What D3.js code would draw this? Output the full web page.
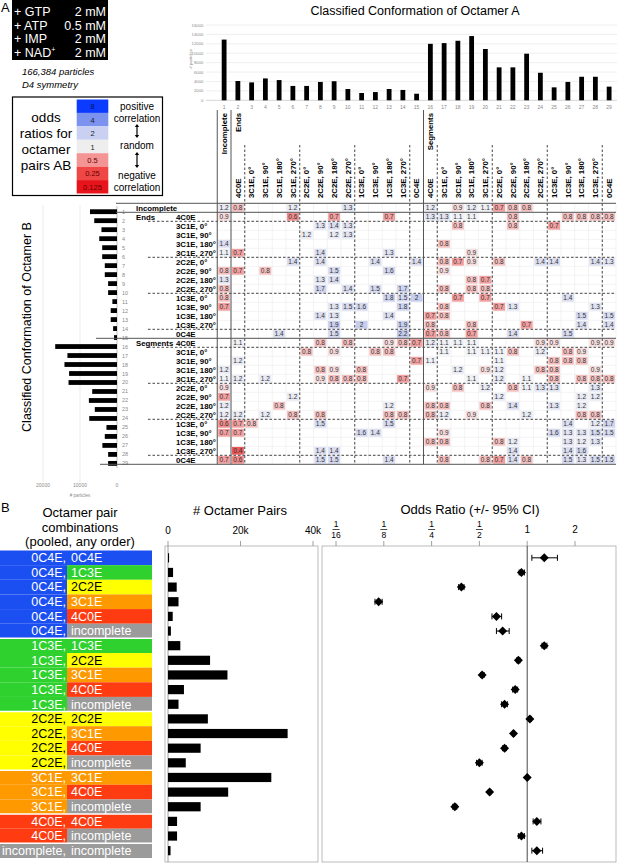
<!DOCTYPE html>
<html>
<head>
<meta charset="utf-8">
<script src="https://cdn.jsdelivr.net/npm/d3@7"></script>
<style>
  body { margin: 0; background: #fff; }
  svg { display: block; font-family: "Liberation Sans", Arial, sans-serif; }
</style>
</head>
<body>
<svg id="fig" width="617" height="865"></svg>
<script>
// ---------------- data ----------------
const conditions = ['GTP', 'ATP', 'IMP', 'NAD'];
const concentrations = ['2 mM', '0.5 mM', '2 mM', '2 mM'];

const legendValues = ['8', '4', '2', '1', '0.5', '0.25', '0.125'];
const legendColors = ['#0b3bff', '#7b92ee', '#c9d0f1', '#eeeeee', '#f39595', '#ef4646', '#e8141c'];

// particles per conformation, octamer A (top) and octamer B (left)
const octACounts = [12900, 4100, 3800, 4650, 4300, 3050, 3050, 3900, 4050, 2400, 1550, 1750, 2400, 2200, 1400,
  12000, 12150, 12650, 13650, 10900, 7000, 7000, 9900, 5850, 2750, 3900, 5000, 5000, 2900];
const octBCounts = [7300, 6150, 4200, 4800, 4000, 4000, 3300, 3300, 2400, 2400, 1250, 1700, 1700, 1050, 800,
  16700, 13400, 14200, 12950, 13100, 6700, 7600, 6000, 7500, 2850, 3300, 3950, 2400, 2400];

const subLabels = ['4C0E', '3C1E, 0°', '3C1E, 90°', '3C1E, 180°', '3C1E, 270°',
  '2C2E, 0°', '2C2E, 90°', '2C2E, 180°', '2C2E, 270°',
  '1C3E, 0°', '1C3E, 90°', '1C3E, 180°', '1C3E, 270°', '0C4E'];
const confLabels = ['Incomplete', ...subLabels, ...subLabels];
const groupLabels = [[1, 'Incomplete'], [2, 'Ends'], [16, 'Segments']];

// odds ratio cells, one list per row of octamer B: [column of octamer A, odds ratio]
const oddsByRow = [
  [[1, 1.2], [2, 0.8], [6, 1.2], [10, 1.3], [16, 1.2], [18, 0.9], [19, 1.2], [20, 1.1], [21, 0.7], [22, 0.8], [23, 0.8]],
  [[1, 0.9], [6, 0.6], [9, 0.7], [13, 0.7], [16, 1.3], [17, 1.3], [18, 1.1], [19, 1.1], [22, 0.8], [26, 0.8], [27, 0.8], [28, 0.8], [29, 0.8]],
  [[8, 1.3], [9, 1.4], [10, 1.3], [18, 0.8], [22, 0.8], [25, 0.7]],
  [[7, 1.2], [9, 1.2], [10, 1.3]],
  [[1, 1.4], [17, 0.8]],
  [[1, 1.1], [2, 0.7], [8, 1.4], [13, 1.3], [19, 0.9]],
  [[6, 1.4], [8, 1.4], [12, 1.4], [15, 1.4], [17, 0.8], [18, 0.7], [19, 0.9], [21, 0.8], [24, 1.4], [25, 1.4], [28, 1.4], [29, 1.3]],
  [[1, 0.8], [2, 0.7], [4, 0.8], [9, 1.5], [13, 1.6], [17, 0.9]],
  [[1, 1.3], [8, 1.3], [9, 1.4], [19, 0.8], [20, 0.7]],
  [[1, 0.8], [8, 1.7], [10, 1.4], [12, 1.5], [14, 1.7], [17, 0.8], [19, 0.8], [20, 0.8]],
  [[1, 0.8], [13, 1.8], [14, 1.5], [15, 2], [18, 0.7], [20, 0.7], [26, 1.4]],
  [[1, 0.7], [9, 1.3], [10, 1.5], [11, 1.6], [14, 1.8], [17, 0.8], [21, 0.7], [22, 1.3], [28, 1.3]],
  [[8, 1.4], [9, 1.3], [13, 1.4], [16, 0.7], [17, 0.8], [27, 1.5], [29, 1.5]],
  [[9, 1.9], [11, 2], [14, 1.9], [16, 0.8], [19, 0.8], [23, 0.7], [27, 1.4], [29, 1.4]],
  [[5, 1.4], [9, 1.5], [14, 2.2], [16, 0.7], [17, 0.8], [19, 0.7], [22, 1.4], [26, 1.5]],
  [[2, 1.1], [8, 0.8], [10, 0.8], [13, 0.9], [14, 0.8], [15, 0.7], [16, 1.2], [17, 1.1], [18, 1.1], [19, 1.1], [24, 0.9], [25, 0.9], [28, 0.9], [29, 0.9]],
  [[7, 0.8], [9, 0.9], [12, 0.8], [13, 0.8], [17, 1.1], [19, 1.1], [20, 1.1], [21, 1.1], [22, 0.8], [24, 1.2], [26, 0.8], [27, 0.9]],
  [[2, 1.2], [15, 0.7], [16, 1.1], [21, 1.1], [25, 0.8], [26, 0.8], [27, 0.8]],
  [[1, 1.2], [8, 0.8], [9, 0.9], [11, 0.8], [18, 1.2], [20, 0.9], [21, 1.2], [24, 0.8], [25, 0.8], [28, 0.9]],
  [[1, 1.1], [2, 1.2], [4, 1.2], [8, 0.9], [9, 0.8], [10, 0.8], [11, 0.8], [14, 0.7], [19, 1.1], [21, 1.2], [23, 1.1], [25, 0.8], [27, 0.8], [28, 0.8], [29, 0.8]],
  [[1, 0.9], [16, 0.9], [18, 0.8], [20, 1.2], [22, 0.8], [23, 1.1], [24, 1.3], [25, 1.3], [28, 1.3]],
  [[1, 0.7], [6, 1.2], [21, 1.2], [27, 1.2], [28, 1.2]],
  [[1, 1.2], [5, 0.8], [13, 1.2], [16, 0.8], [17, 0.8], [20, 0.8], [22, 1.4], [25, 1.3], [27, 1.2]],
  [[1, 1.2], [2, 1.2], [4, 1.2], [6, 0.8], [8, 0.8], [13, 0.8], [14, 0.8], [16, 0.8], [17, 1.2], [19, 0.9], [23, 1.2], [27, 0.8], [28, 0.8]],
  [[1, 0.6], [2, 0.7], [3, 0.8], [8, 1.5], [13, 1.5], [26, 1.4], [28, 1.2], [29, 1.7]],
  [[1, 0.7], [2, 0.7], [11, 1.6], [12, 1.4], [17, 0.9], [25, 1.6], [26, 1.3], [27, 1.3], [28, 1.5], [29, 1.5]],
  [[16, 0.8], [17, 0.8], [21, 0.8], [22, 1.2], [26, 1.3], [27, 1.2], [28, 1.3]],
  [[2, 0.4], [8, 1.4], [9, 1.4], [22, 1.4], [26, 1.4], [27, 1.6]],
  [[1, 0.7], [2, 0.6], [8, 1.5], [9, 1.5], [13, 1.4], [17, 0.8], [20, 0.8], [21, 0.7], [22, 1.4], [23, 0.8], [26, 1.5], [27, 1.3], [28, 1.5], [29, 1.5]]
];

// panel B
const pairFirst = ['0C4E', '0C4E', '0C4E', '0C4E', '0C4E', '0C4E', '1C3E', '1C3E', '1C3E', '1C3E', '1C3E',
  '2C2E', '2C2E', '2C2E', '2C2E', '3C1E', '3C1E', '3C1E', '4C0E', '4C0E', 'incomplete'];
const pairSecond = ['0C4E', '1C3E', '2C2E', '3C1E', '4C0E', 'incomplete', '1C3E', '2C2E', '3C1E', '4C0E', 'incomplete',
  '2C2E', '3C1E', '4C0E', 'incomplete', '3C1E', '4C0E', 'incomplete', '4C0E', 'incomplete', 'incomplete'];
const pairCounts = [300, 1400, 2400, 2900, 1300, 800, 3400, 11600, 16400, 4400, 2900,
  11000, 33000, 9000, 4900, 28500, 16600, 9000, 2500, 2500, 700];
const pairOdds = [1.28, 0.92, 0.385, 0.116, 0.64, 0.70, 1.28, 0.88, 0.52, 0.84, 0.72,
  1.04, 0.82, 0.72, 0.50, 1.0, 0.58, 0.35, 1.15, 0.92, 1.15];
const pairLow = [1.07, 0.89, 0.37, 0.11, 0.60, 0.64, 1.24, 0.86, 0.51, 0.81, 0.69,
  1.02, 0.81, 0.70, 0.48, 0.99, 0.57, 0.34, 1.09, 0.88, 1.07];
const pairHigh = [1.55, 0.96, 0.40, 0.122, 0.69, 0.77, 1.33, 0.90, 0.535, 0.87, 0.75,
  1.06, 0.83, 0.74, 0.52, 1.01, 0.59, 0.36, 1.22, 0.96, 1.25];
const pairCountTicks = [0, 20000, 40000];
const oddsTicks = [1 / 16, 1 / 8, 1 / 4, 1 / 2, 1, 2];
const oddsTickLabels = [['1', '16'], ['1', '8'], ['1', '4'], ['1', '2'], ['1'], ['2']];

const confColors = {
  '0C4E': '#1c4ff2', '1C3E': '#2ed12e', '2C2E': '#ffff00',
  '3C1E': '#ff9900', '4C0E': '#ff3b12', 'incomplete': '#9b9b9b'
};

// ---------------- setup ----------------
const svg = d3.select('#fig');
const GRAY = '#8a8a8a';

svg.append('text').attr('x', 1).attr('y', 12).attr('font-size', 13).text('A');
svg.append('text').attr('x', 1).attr('y', 512).attr('font-size', 13).text('B');

// conditions box
svg.append('rect').attr('x', 12).attr('y', 0).attr('width', 96).attr('height', 60).attr('fill', '#000');
conditions.forEach((c, i) => {
  const y = 16 + i * 13.6;
  const t = svg.append('text').attr('x', 14).attr('y', y).attr('fill', '#fff').attr('font-size', 12.5).text('+ ' + c);
  if (c === 'NAD') t.append('tspan').attr('font-size', 7).attr('dy', -5).text('+');
  svg.append('text').attr('x', 106).attr('y', y).attr('fill', '#fff').attr('font-size', 12.5)
    .attr('text-anchor', 'end').text(concentrations[i]);
});
svg.append('text').attr('x', 22).attr('y', 75).attr('font-size', 9.5).attr('font-style', 'italic').text('166,384 particles');
svg.append('text').attr('x', 22).attr('y', 88).attr('font-size', 9.5).attr('font-style', 'italic').text('D4 symmetry');

// odds ratio legend
svg.append('rect').attr('x', 12.5).attr('y', 97).attr('width', 150).attr('height', 98.5)
  .attr('fill', 'none').attr('stroke', '#000').attr('stroke-width', 1.2);
const swatchY = d3.scaleBand().domain(legendValues).range([99.5, 193.5]);
legendValues.forEach((v, i) => {
  svg.append('rect').attr('x', 76.7).attr('y', swatchY(v)).attr('width', 31.6).attr('height', swatchY.bandwidth())
    .attr('fill', legendColors[i]);
  svg.append('text').attr('x', 92.5).attr('y', swatchY(v) + swatchY.bandwidth() / 2 + 3)
    .attr('text-anchor', 'middle').attr('font-size', 7.5)
    .attr('fill', i < 1 ? '#001060' : i > 3 ? '#6a0000' : '#222').text(v);
});
['odds', 'ratios for', 'octamer', 'pairs AB'].forEach((t, i) => {
  svg.append('text').attr('x', 46).attr('y', 122 + i * 16).attr('text-anchor', 'middle').attr('font-size', 13.5).text(t);
});
[['positive', 109.5], ['correlation', 121.5], ['random', 148.5], ['negative', 179], ['correlation', 190.5]].forEach(([t, y]) => {
  svg.append('text').attr('x', 137).attr('y', y).attr('text-anchor', 'middle').attr('font-size', 10).text(t);
});
function dblArrow(x, y1, y2) {
  svg.append('line').attr('x1', x).attr('x2', x).attr('y1', y1 + 2).attr('y2', y2 - 2).attr('stroke', '#000').attr('stroke-width', 1.2);
  svg.append('path').attr('d', `M${x - 2.2},${y1 + 3}L${x},${y1}L${x + 2.2},${y1 + 3}Z`).attr('fill', '#000');
  svg.append('path').attr('d', `M${x - 2.2},${y2 - 3}L${x},${y2}L${x + 2.2},${y2 - 3}Z`).attr('fill', '#000');
}
dblArrow(137, 124, 138);
dblArrow(137, 152, 168);

// ---------------- top bar chart (octamer A) ----------------
const colX = d3.scaleBand().domain(d3.range(1, 30)).range([217.25, 616]);
const rowY = d3.scaleBand().domain(d3.range(1, 30)).range([203.3, 464.3]);
const topY = d3.scaleLinear().domain([0, 16000]).range([100.3, 25]);

svg.append('text').attr('x', 415).attr('y', 14.5).attr('text-anchor', 'middle').attr('font-size', 12.5)
  .text('Classified Conformation of Octamer A');
topY.ticks(8).forEach(t => {
  svg.append('line').attr('x1', 206).attr('x2', 617).attr('y1', topY(t)).attr('y2', topY(t))
    .attr('stroke', t === 0 ? '#bbb' : '#e4e4e4').attr('stroke-width', 0.6);
  svg.append('text').attr('x', 203.5).attr('y', topY(t) + 1.5).attr('text-anchor', 'end')
    .attr('font-size', 4.3).attr('fill', GRAY).text(t);
});
svg.append('text').attr('transform', 'translate(191.5,59) rotate(-90)').attr('text-anchor', 'middle')
  .attr('font-size', 4.3).attr('fill', GRAY).text('# particles');
svg.append('g').selectAll('rect').data(octACounts).join('rect')
  .attr('x', (d, i) => colX(i + 1) + colX.bandwidth() / 2 - 2.4)
  .attr('y', d => topY(d)).attr('width', 4.8).attr('height', d => topY(0) - topY(d)).attr('fill', '#000');
svg.append('g').selectAll('text').data(octACounts).join('text')
  .attr('x', (d, i) => colX(i + 1) + colX.bandwidth() / 2).attr('y', 108.5)
  .attr('text-anchor', 'middle').attr('font-size', 5).attr('fill', GRAY).text((d, i) => i + 1);

// ---------------- left bar chart (octamer B) ----------------
const leftX = d3.scaleLinear().domain([0, 20000]).range([117, 43]);
const leftY = d3.scaleBand().domain(d3.range(1, 30)).range([207.2, 467.9]);
svg.append('text').attr('transform', 'translate(31,327) rotate(-90)').attr('text-anchor', 'middle')
  .attr('font-size', 12.5).text('Classified Conformation of Octamer B');
[20000, 10000].forEach(t => {
  svg.append('line').attr('x1', leftX(t)).attr('x2', leftX(t)).attr('y1', 205).attr('y2', 482)
    .attr('stroke', '#e2e2e2').attr('stroke-width', 0.7);
});
svg.append('line').attr('x1', 117).attr('x2', 117).attr('y1', 206).attr('y2', 468).attr('stroke', '#999').attr('stroke-width', 0.6);
[20000, 10000, 0].forEach(t => {
  svg.append('text').attr('x', leftX(t)).attr('y', 487).attr('text-anchor', 'middle')
    .attr('font-size', 5).attr('fill', GRAY).text(t);
});
svg.append('text').attr('x', 80).attr('y', 496.5).attr('text-anchor', 'middle').attr('font-size', 4.5).attr('fill', GRAY).text('# particles');
svg.append('g').selectAll('rect').data(octBCounts).join('rect')
  .attr('x', d => leftX(d)).attr('y', (d, i) => leftY(i + 1) + leftY.bandwidth() / 2 - 2.4)
  .attr('width', d => leftX(0) - leftX(d)).attr('height', 4.8).attr('fill', '#000');
svg.append('g').selectAll('text').data(octBCounts).join('text')
  .attr('x', 122).attr('y', (d, i) => leftY(i + 1) + leftY.bandwidth() / 2 + 2)
  .attr('font-size', 5.5).attr('fill', GRAY).text((d, i) => i + 1);

// ---------------- heatmap ----------------
const cellColor = d3.scaleLinear().domain([-1.5, -0.5, 0, 0.5, 1.2])
  .range(['#e84a4a', '#f2a0a0', '#f8f8f8', '#d9ddf0', '#c0c8ec']).clamp(true);
const bw = colX.bandwidth(), bh = rowY.bandwidth();
const gTable = svg.append('g');

// light grid
d3.range(1, 31).forEach(c => {
  const x = 217.25 + (c - 1) * bw;
  gTable.append('line').attr('x1', x).attr('x2', x).attr('y1', 203.3).attr('y2', 464.3).attr('stroke', '#e6e6e6').attr('stroke-width', 0.5);
});
d3.range(1, 30).forEach(r => {
  gTable.append('line').attr('x1', 217.25).attr('x2', 616).attr('y1', rowY(r)).attr('y2', rowY(r)).attr('stroke', '#e6e6e6').attr('stroke-width', 0.5);
});

const cells = oddsByRow.flatMap((row, i) => row.map(([c, v]) => ({ r: i + 1, c, v })));
gTable.selectAll('rect.cell').data(cells).join('rect').attr('class', 'cell')
  .attr('x', d => colX(d.c) + 0.9).attr('y', d => rowY(d.r) + 0.6)
  .attr('width', bw - 1.8).attr('height', bh - 1.2).attr('fill', d => cellColor(Math.log2(d.v)));
gTable.selectAll('text.cell').data(cells).join('text').attr('class', 'cell')
  .attr('x', d => colX(d.c) + bw / 2).attr('y', d => rowY(d.r) + bh / 2 + 2.3)
  .attr('text-anchor', 'middle').attr('font-size', 6.5).attr('fill', '#333').text(d => d.v);

// column header labels
confLabels.forEach((lab, i) => {
  if (i === 0) return;
  const x = colX(i + 1) + bw / 2 + 2.8;
  svg.append('text').attr('transform', `translate(${x},198) rotate(-90)`)
    .attr('font-size', 7.8).attr('font-weight', 'bold').text(lab);
});
groupLabels.forEach(([c, lab]) => {
  const x = colX(c) + bw / 2 + 2.8;
  svg.append('text').attr('transform', `translate(${x},113) rotate(-90)`).attr('text-anchor', 'end')
    .attr('font-size', 7.8).attr('font-weight', 'bold').text(lab);
});

// row labels
confLabels.forEach((lab, i) => {
  if (i === 0) return;
  svg.append('text').attr('x', 176).attr('y', rowY(i + 1) + bh / 2 + 2.8)
    .attr('font-size', 7.8).attr('font-weight', 'bold').text(lab);
});
groupLabels.forEach(([r, lab]) => {
  svg.append('text').attr('x', 136).attr('y', rowY(r) + bh / 2 + 2.8)
    .attr('font-size', 7.8).attr('font-weight', 'bold').text(lab);
});

// group separators
const dashedAfter = [2, 6, 10, 14, 16, 20, 24, 28];
dashedAfter.forEach(k => {
  const x = colX(k) + bw, y = rowY(k) + bh;
  svg.append('line').attr('x1', x).attr('x2', x).attr('y1', 145).attr('y2', 464.3)
    .attr('stroke', '#333').attr('stroke-width', 0.9).attr('stroke-dasharray', '2.5,2');
  svg.append('line').attr('x1', 148).attr('x2', 616).attr('y1', y).attr('y2', y)
    .attr('stroke', '#333').attr('stroke-width', 0.9).attr('stroke-dasharray', '2.5,2');
});
[colX(1), colX(2), colX(16)].forEach(x => {
  svg.append('line').attr('x1', x).attr('x2', x).attr('y1', 110).attr('y2', 464.3).attr('stroke', '#555').attr('stroke-width', 1);
});
[[rowY(1), 116], [rowY(2), 116], [rowY(16), 96], [464.3, 100]].forEach(([y, x0]) => {
  svg.append('line').attr('x1', x0).attr('x2', 616).attr('y1', y).attr('y2', y).attr('stroke', '#555').attr('stroke-width', 1);
});

// ---------------- panel B ----------------
['Octamer pair', 'combinations', '(pooled, any order)'].forEach((t, i) => {
  svg.append('text').attr('x', 80).attr('y', 517 + i * 14.5).attr('text-anchor', 'middle').attr('font-size', 13).text(t);
});
svg.append('text').attr('x', 240).attr('y', 515).attr('text-anchor', 'middle').attr('font-size', 13).text('# Octamer Pairs');
svg.append('text').attr('x', 470).attr('y', 514).attr('text-anchor', 'middle').attr('font-size', 13).text('Odds Ratio (+/- 95% CI)');

const pairY = d3.scaleBand().domain(d3.range(pairFirst.length)).range([550.5, 858]);
const ph = pairY.bandwidth();
pairFirst.forEach((a, i) => {
  const b = pairSecond[i];
  const y = pairY(i);
  svg.append('rect').attr('x', 0).attr('y', y).attr('width', 67).attr('height', ph).attr('fill', confColors[a]);
  svg.append('rect').attr('x', 67).attr('y', y).attr('width', 85).attr('height', ph).attr('fill', confColors[b]);
  svg.append('text').attr('x', 66).attr('y', y + ph / 2 + 4.3).attr('text-anchor', 'end').attr('font-size', 12.5)
    .attr('fill', a === '2C2E' ? '#000' : '#fff').text(a + ',');
  svg.append('text').attr('x', 71).attr('y', y + ph / 2 + 4.3).attr('font-size', 12.5)
    .attr('fill', b === '2C2E' ? '#000' : '#fff').text(b);
  if (i > 0 && pairFirst[i - 1] !== a) {
    svg.append('line').attr('x1', 0).attr('x2', 152).attr('y1', y).attr('y2', y).attr('stroke', '#fff').attr('stroke-width', 1.5);
  }
});

// counts
const countX = d3.scaleLinear().domain([0, 40000]).range([168, 313]);
svg.append('rect').attr('x', 165).attr('y', 546).attr('width', 153).attr('height', 316)
  .attr('fill', 'none').attr('stroke', '#aaa').attr('stroke-width', 0.8);
pairCountTicks.forEach(t => {
  svg.append('text').attr('x', countX(t)).attr('y', 534).attr('text-anchor', 'middle').attr('font-size', 10)
    .text(t === 0 ? '0' : t / 1000 + 'k');
  svg.append('line').attr('x1', countX(t)).attr('x2', countX(t)).attr('y1', 541).attr('y2', 546).attr('stroke', '#888').attr('stroke-width', 0.8);
});
svg.append('line').attr('x1', countX(0)).attr('x2', countX(0)).attr('y1', 546).attr('y2', 862).attr('stroke', '#888').attr('stroke-width', 0.8);
svg.append('g').selectAll('rect').data(pairCounts).join('rect')
  .attr('x', countX(0)).attr('y', (d, i) => pairY(i) + ph / 2 - 4.6)
  .attr('width', d => countX(d) - countX(0)).attr('height', 9.2).attr('fill', '#000');

// odds ratio
const oddsX = d3.scaleLog().base(2).domain([1 / 16, 2]).range([336, 575]);
svg.append('rect').attr('x', 322).attr('y', 546).attr('width', 294).attr('height', 316)
  .attr('fill', 'none').attr('stroke', '#aaa').attr('stroke-width', 0.8);
oddsTicks.forEach((t, i) => {
  const x = oddsX(t), lab = oddsTickLabels[i];
  if (lab.length === 2) {
    svg.append('text').attr('x', x).attr('y', 527).attr('text-anchor', 'middle').attr('font-size', 8.5).text(lab[0]);
    svg.append('line').attr('x1', x - 3.5).attr('x2', x + 3.5).attr('y1', 529.5).attr('y2', 529.5).attr('stroke', '#000').attr('stroke-width', 0.7);
    svg.append('text').attr('x', x).attr('y', 538).attr('text-anchor', 'middle').attr('font-size', 8.5).text(lab[1]);
  } else {
    svg.append('text').attr('x', x).attr('y', 533).attr('text-anchor', 'middle').attr('font-size', 10).text(lab[0]);
  }
  svg.append('line').attr('x1', x).attr('x2', x).attr('y1', 541).attr('y2', 546).attr('stroke', '#888').attr('stroke-width', 0.8);
});
svg.append('line').attr('x1', oddsX(1)).attr('x2', oddsX(1)).attr('y1', 546).attr('y2', 862).attr('stroke', '#333').attr('stroke-width', 0.9);
const gOdds = svg.append('g');
pairOdds.forEach((v, i) => {
  const y = pairY(i) + ph / 2;
  const x1 = oddsX(pairLow[i]), x2 = oddsX(pairHigh[i]);
  gOdds.append('line').attr('x1', x1).attr('x2', x2).attr('y1', y).attr('y2', y).attr('stroke', '#000').attr('stroke-width', 1);
  [x1, x2].forEach(x => gOdds.append('line').attr('x1', x).attr('x2', x).attr('y1', y - 3).attr('y2', y + 3).attr('stroke', '#000').attr('stroke-width', 1));
  const cx = oddsX(v);
  gOdds.append('path').attr('d', `M${cx},${y - 4.5}L${cx + 4.5},${y}L${cx},${y + 4.5}L${cx - 4.5},${y}Z`).attr('fill', '#000');
});
</script>
</body>
</html>
